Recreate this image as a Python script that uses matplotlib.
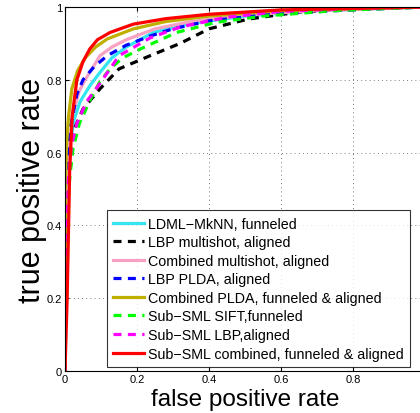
import matplotlib
matplotlib.use("Agg")
import matplotlib.pyplot as plt

plt.rcParams['font.family'] = ['Liberation Sans', 'DejaVu Sans']

# ROC curves (false positive rate, true positive rate)
ldml_fpr = [0, 0.003, 0.008, 0.015, 0.025, 0.042, 0.07, 0.097, 0.13, 0.17, 0.245, 0.35, 0.5, 0.7, 1.0]
ldml_tpr = [0, 0.35, 0.55, 0.63, 0.69, 0.74, 0.785, 0.82, 0.86, 0.89, 0.93, 0.955, 0.975, 0.99, 1.0]

lbpms_fpr = [0, 0.004, 0.01, 0.022, 0.05, 0.097, 0.15, 0.236, 0.32, 0.40, 0.51, 0.65, 0.79, 1.0]
lbpms_tpr = [0, 0.35, 0.55, 0.656, 0.72, 0.775, 0.83, 0.866, 0.90, 0.94, 0.967, 0.986, 0.994, 1.0]

combms_fpr = [0, 0.003, 0.01, 0.02, 0.04, 0.056, 0.078, 0.097, 0.13, 0.17, 0.25, 0.35, 0.5, 0.7, 1.0]
combms_tpr = [0, 0.4, 0.6, 0.7, 0.77, 0.8, 0.835, 0.866, 0.89, 0.91, 0.94, 0.96, 0.978, 0.99, 1.0]

lbppl_fpr = [0, 0.003, 0.008, 0.015, 0.033, 0.05, 0.08, 0.117, 0.17, 0.236, 0.30, 0.40, 0.55, 0.75, 1.0]
lbppl_tpr = [0, 0.35, 0.58, 0.67, 0.76, 0.80, 0.835, 0.866, 0.895, 0.92, 0.94, 0.962, 0.978, 0.99, 1.0]

combpl_fpr = [0, 0.001, 0.004, 0.01, 0.019, 0.035, 0.056, 0.085, 0.117, 0.19, 0.28, 0.4, 0.6, 1.0]
combpl_tpr = [0, 0.5, 0.62, 0.7, 0.775, 0.825, 0.86, 0.89, 0.912, 0.94, 0.96, 0.975, 0.99, 1.0]

sift_fpr = [0, 0.004, 0.01, 0.022, 0.04, 0.07, 0.097, 0.125, 0.16, 0.21, 0.31, 0.42, 0.55, 0.75, 1.0]
sift_tpr = [0, 0.3, 0.5, 0.61, 0.68, 0.745, 0.795, 0.83, 0.86, 0.885, 0.93, 0.958, 0.975, 0.99, 1.0]

sublbp_fpr = [0, 0.003, 0.009, 0.018, 0.033, 0.06, 0.097, 0.15, 0.236, 0.32, 0.45, 0.6, 0.8, 1.0]
sublbp_tpr = [0, 0.3, 0.52, 0.62, 0.68, 0.74, 0.79, 0.866, 0.915, 0.945, 0.972, 0.988, 0.996, 1.0]

subcomb_fpr = [0, 0.006, 0.01, 0.013, 0.02, 0.033, 0.05, 0.069, 0.09, 0.125, 0.19, 0.28, 0.40, 0.6, 1.0]
subcomb_tpr = [0, 0.2, 0.4, 0.55, 0.7, 0.80, 0.85, 0.885, 0.91, 0.93, 0.953, 0.968, 0.98, 0.992, 1.0]

labels = ['LDML\u2212MkNN, funneled',
          'LBP multishot, aligned',
          'Combined multishot, aligned',
          'LBP PLDA, aligned',
          'Combined PLDA, funneled & aligned',
          'Sub\u2212SML SIFT,funneled',
          'Sub\u2212SML LBP,aligned',
          'Sub\u2212SML combined, funneled & aligned']

fig = plt.figure(figsize=(4.2, 4.14), dpi=100)
ax = fig.add_axes([65 / 420, 42 / 414, 360 / 420, 364 / 414])

dash = (0, (2.5, 2.0))
lw = 2.3
ax.plot(ldml_fpr, ldml_tpr, color='#33e5f0', lw=lw, label=labels[0])
ax.plot(lbpms_fpr, lbpms_tpr, color='black', lw=lw, ls=dash, label=labels[1])
ax.plot(combms_fpr, combms_tpr, color='#f7a1c4', lw=lw, label=labels[2])
ax.plot(lbppl_fpr, lbppl_tpr, color='#0000ff', lw=lw, ls=dash, label=labels[3])
ax.plot(combpl_fpr, combpl_tpr, color='#bfb000', lw=lw, label=labels[4])
ax.plot(sift_fpr, sift_tpr, color='#00ff00', lw=lw, ls=dash, label=labels[5])
ax.plot(sublbp_fpr, sublbp_tpr, color='#ff00ff', lw=lw, ls=dash, label=labels[6])
ax.plot(subcomb_fpr, subcomb_tpr, color='#ff0000', lw=lw, label=labels[7])

ax.set_xlim(0, 1)
ax.set_ylim(0, 1)
ticks = [0, 0.2, 0.4, 0.6, 0.8, 1]
ax.set_xticks(ticks)
ax.set_yticks(ticks)
# the "1" on the x axis falls outside the cropped picture
ax.set_xticklabels(['0', '0.2', '0.4', '0.6', '0.8', ''])
ax.set_yticklabels(['0', '0.2', '0.4', '0.6', '0.8', '1'])
ax.tick_params(direction='in', top=True, right=True, labelsize=8, length=3, pad=2)
ax.grid(True, ls=(0, (1, 4)), color='#555555', lw=0.6)
ax.set_xlabel('false positive rate', fontsize=17.5, labelpad=3)
ax.set_ylabel('true positive rate', fontsize=22, labelpad=0)

leg = ax.legend(loc='lower right', bbox_to_anchor=(410 / 420, 46 / 414),
                bbox_transform=fig.transFigure, fontsize=10.3, frameon=True,
                fancybox=False, edgecolor='black', borderaxespad=0,
                handlelength=2.1, labelspacing=0.32, borderpad=0.45, handletextpad=0.3)
leg.get_frame().set_linewidth(0.8)

fig.savefig('out.png', dpi=100)
